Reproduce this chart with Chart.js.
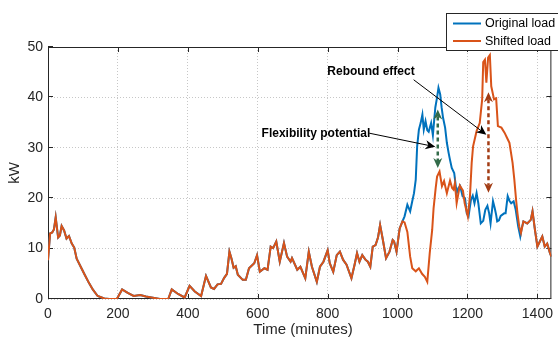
<!DOCTYPE html>
<html>
<head>
<meta charset="utf-8">
<script src="https://cdn.jsdelivr.net/npm/chart.js@4.4.1/dist/chart.umd.min.js"></script>
<style>
  html, body { margin: 0; padding: 0; background: #fff; overflow: hidden; }
  #wrap { position: relative; width: 560px; height: 341px; }
</style>
</head>
<body>
<div id="wrap"><canvas id="chart"></canvas></div>
<script>
// shifted load, whole day (minutes -> kW)
const minutes = [0, 6, 12, 17, 22, 29, 34, 39, 46, 53, 60, 68, 75, 82, 95, 105, 117, 128, 142, 161, 175, 197,
  212, 228, 245, 264, 280, 296, 320, 344, 354, 372, 391, 405, 420, 438, 452, 466, 475, 485, 495, 504, 512,
  519, 525, 531, 537, 543, 557, 566, 575, 590, 598, 606, 619, 628, 637, 644, 653, 663, 675, 684, 694, 698,
  713, 722, 736, 746, 755, 769, 778, 788, 800, 806, 816, 826, 835, 844, 854, 868, 877, 884, 891, 899, 908,
  915, 922, 929, 937, 944, 950, 958, 967, 977, 986, 990, 997, 1006, 1014, 1020, 1028, 1036, 1042, 1052,
  1061, 1070, 1078, 1085, 1092, 1099, 1103, 1109, 1113, 1120, 1127, 1133, 1141, 1150, 1156, 1160, 1164,
  1169, 1178, 1187, 1192, 1201, 1207, 1212, 1216, 1226, 1235, 1242, 1245, 1250, 1254, 1259, 1264, 1268,
  1276, 1282, 1287, 1297, 1306, 1313, 1320, 1329, 1334, 1339, 1343, 1348, 1353, 1360, 1371, 1381, 1386,
  1393, 1400, 1407, 1414, 1421, 1428, 1436, 1440];
const shiftedLoad = [7.7, 13, 13.2, 13.8, 16.2, 12.2, 12.6, 14.5, 13.6, 12, 12.5, 11, 10.2, 8, 6.2, 4.8, 3.2,
  1.9, 0.6, 0.1, 0, 0, 1.9, 1.2, 0.6, 0.8, 0.5, 0.3, 0, 0, 1.9, 1.0, 0.3, 2.6, 1.5, 0.6, 4.6, 2.3, 2.0, 2.9,
  3.0, 4.2, 5.0, 9.4, 8.0, 6.2, 6.5, 4.8, 3.8, 3.8, 6.1, 7.1, 8.7, 5.4, 6.1, 5.8, 10.4, 10.1, 11.4, 7.4,
  11.1, 8.4, 7.4, 8.1, 5.8, 6.4, 4.1, 9.4, 6.4, 3.4, 6.4, 7.4, 9.7, 7.1, 5.4, 8.7, 9.4, 7.8, 6.8, 4.1, 6.8,
  9.1, 7.4, 8.7, 7.8, 7.4, 6.4, 10.4, 10.7, 12.2, 14.7, 11.7, 8.1, 9.4, 11.7, 11.4, 9.4, 14, 15.4, 15.2,
  13.3, 8.4, 6.1, 5.5, 6.1, 5.0, 4.4, 3.4, 9.1, 13.7, 18, 22, 24.3, 25.3, 22.4, 23.4, 21, 23.5, 22, 21.7,
  23, 19, 22.5, 21.5, 19, 16.4, 20.3, 27, 30.3, 33.3, 34.9, 39.6, 47.0, 47.5, 42.9, 47.9, 48.4, 42.2, 39.6,
  39.8, 34.3, 34.0, 33, 32, 31, 27, 23.7, 19.7, 17, 14.4, 13.1, 15.4, 15, 15.7, 17.4, 13.7, 10.4, 11.4,
  12.4, 10.4, 11, 9.1, 8.4];

// original load where it differs from the shifted one
const windowMinutes = [1014, 1020, 1028, 1036, 1042, 1047, 1052, 1056, 1061, 1066, 1071, 1075, 1080, 1085,
  1089, 1096, 1101, 1108, 1113, 1117, 1122, 1126, 1130, 1136, 1141, 1146, 1150, 1155, 1162, 1169, 1174,
  1179, 1186, 1193, 1198, 1203, 1210, 1215, 1220, 1226, 1231, 1238, 1245, 1251, 1257, 1262, 1266, 1273,
  1278, 1282, 1285, 1290, 1295, 1299, 1305, 1309, 1315, 1320, 1325, 1332, 1338, 1345, 1351, 1355];
const originalWindowLoad = [15.4, 16.4, 18.7, 17.4, 19.4, 21, 23.7, 30.3, 33.6, 34.9, 36.6, 33.6, 35.3,
  33.5, 33.2, 34.9, 32.5, 38, 40, 41.9, 40.6, 38, 36, 34, 31, 29, 27.6, 26, 25, 21, 22, 22.4, 20.4, 20, 17,
  16.4, 19.7, 20.5, 19, 21, 19, 15, 15.5, 17.7, 18.5, 17, 15, 19.4, 18, 16.7, 15.4, 15.6, 16.5, 16.7, 17,
  17, 20.4, 19.5, 19, 19.4, 17.7, 14.4, 12.4, 14];

const xTicks = [0, 200, 400, 600, 800, 1000, 1200, 1400];
const yTicks = [0, 10, 20, 30, 40, 50];
const seriesNames = ['Original load', 'Shifted load'];
const seriesColors = ['#0072BD', '#D95319'];

// annotations, in data units
const notes = [
  { text: 'Flexibility potential', at: [611, 32.8], from: [919, 32.9], to: [1108, 30.2] },
  { text: 'Rebound effect', at: [799, 45.1], from: [1046, 43.5], to: [1254, 32.6] }
];
const gaps = [
  { t: 1115, lo: 26, hi: 37.6, color: '#336b49' },
  { t: 1260, lo: 21.1, hi: 41, color: '#a23c14' }
];

const FONT = '"Liberation Sans", Arial, Helvetica, sans-serif';
const AXIS = '#262626';

const shiftedPts = minutes.map((t, i) => ({ x: t, y: shiftedLoad[i] }));
const winStart = windowMinutes[0], winEnd = windowMinutes[windowMinutes.length - 1];
const originalPts = shiftedPts.filter(p => p.x < winStart)
  .concat(windowMinutes.map((t, i) => ({ x: t, y: originalWindowLoad[i] })))
  .concat(shiftedPts.filter(p => p.x > winEnd));

function arrowHead(ctx, x, y, ang, len, half) {
  ctx.save();
  ctx.translate(x, y);
  ctx.rotate(ang);
  ctx.beginPath();
  ctx.moveTo(0, 0);
  ctx.lineTo(-len, -half);
  ctx.lineTo(-len * 0.7, 0);
  ctx.lineTo(-len, half);
  ctx.closePath();
  ctx.fill();
  ctx.restore();
}

const matlabLook = {
  id: 'matlabLook',
  beforeDatasetsDraw(chart) {
    const { ctx, chartArea: a, scales: { x, y } } = chart;
    ctx.save();
    ctx.strokeStyle = AXIS;
    ctx.lineWidth = 1;
    ctx.beginPath();
    ctx.moveTo(a.left + 0.5, a.top + 0.5);
    ctx.lineTo(a.right - 0.5, a.top + 0.5);
    ctx.lineTo(a.right - 0.5, a.bottom - 0.5);
    ctx.lineTo(a.left + 0.5, a.bottom - 0.5);
    ctx.closePath();
    ctx.stroke();
    const tl = 5;
    ctx.beginPath();
    xTicks.forEach(v => {
      const px = Math.round(x.getPixelForValue(v)) + 0.5;
      ctx.moveTo(px, a.bottom); ctx.lineTo(px, a.bottom - tl);
      ctx.moveTo(px, a.top); ctx.lineTo(px, a.top + tl);
    });
    yTicks.forEach(v => {
      const py = Math.round(y.getPixelForValue(v)) - 0.5;
      ctx.moveTo(a.left, py); ctx.lineTo(a.left + tl, py);
      ctx.moveTo(a.right, py); ctx.lineTo(a.right - tl, py);
    });
    ctx.stroke();

    ctx.fillStyle = AXIS;
    ctx.font = '15px ' + FONT;
    ctx.textAlign = 'center';
    ctx.textBaseline = 'middle';
    ctx.fillText('Time (minutes)', (a.left + 558) / 2, 330);
    ctx.translate(15, (a.top + a.bottom) / 2);
    ctx.rotate(-Math.PI / 2);
    ctx.fillText('kW', 0, 0);
    ctx.restore();
  },
  afterDatasetsDraw(chart) {
    const { ctx, scales: { x, y } } = chart;
    ctx.save();
    // double-headed dashed arrows
    gaps.forEach(g => {
      const px = x.getPixelForValue(g.t);
      const top = y.getPixelForValue(g.hi), bot = y.getPixelForValue(g.lo);
      ctx.strokeStyle = g.color;
      ctx.fillStyle = g.color;
      ctx.lineWidth = 2.5;
      ctx.setLineDash([4, 3]);
      ctx.beginPath();
      ctx.moveTo(px, top + 7);
      ctx.lineTo(px, bot - 7);
      ctx.stroke();
      ctx.setLineDash([]);
      arrowHead(ctx, px, top, -Math.PI / 2, 10, 4.5);
      arrowHead(ctx, px, bot, Math.PI / 2, 10, 4.5);
    });
    // text arrows
    ctx.strokeStyle = '#000';
    ctx.fillStyle = '#000';
    ctx.lineWidth = 1;
    ctx.font = 'bold 12px ' + FONT;
    ctx.textAlign = 'left';
    ctx.textBaseline = 'middle';
    notes.forEach(n => {
      const x0 = x.getPixelForValue(n.from[0]), y0 = y.getPixelForValue(n.from[1]);
      const x1 = x.getPixelForValue(n.to[0]), y1 = y.getPixelForValue(n.to[1]);
      const ang = Math.atan2(y1 - y0, x1 - x0);
      ctx.beginPath();
      ctx.moveTo(x0, y0);
      ctx.lineTo(x1 - 6 * Math.cos(ang), y1 - 6 * Math.sin(ang));
      ctx.stroke();
      arrowHead(ctx, x1, y1, ang, 10, 4.5);
      ctx.fillText(n.text, x.getPixelForValue(n.at[0]), y.getPixelForValue(n.at[1]));
    });

    // legend box
    const lx = 446.5, ly = 13.5;
    ctx.fillStyle = '#fff';
    ctx.fillRect(lx, ly, 130, 37);
    ctx.strokeStyle = AXIS;
    ctx.strokeRect(lx, ly, 130, 37);
    ctx.font = '12.5px ' + FONT;
    const order = [1, 0];
    order.forEach((di, row) => {
      const ds = chart.data.datasets[di];
      const yy = ly + 10 + row * 17.5;
      ctx.strokeStyle = ds.borderColor;
      ctx.lineWidth = 2;
      ctx.beginPath();
      ctx.moveTo(453, yy); ctx.lineTo(481, yy);
      ctx.stroke();
      ctx.fillStyle = '#000';
      ctx.fillText(ds.label, 485, yy + 0.5);
    });
    ctx.restore();
  }
};

new Chart(document.getElementById('chart'), {
  type: 'line',
  data: {
    datasets: [
      { label: seriesNames[1], data: shiftedPts, borderColor: seriesColors[1], borderWidth: 2, pointRadius: 0, tension: 0 },
      { label: seriesNames[0], data: originalPts, borderColor: seriesColors[0], borderWidth: 2, pointRadius: 0, tension: 0 }
    ]
  },
  options: {
    responsive: true,
    maintainAspectRatio: false,
    animation: false,
    layout: { padding: { top: 47, right: 1, left: 0, bottom: 0 } },
    plugins: { legend: { display: false }, tooltip: { enabled: false } },
    scales: {
      x: {
        type: 'linear', min: 0, max: 1440,
        afterBuildTicks: s => { s.ticks = xTicks.map(v => ({ value: v })); },
        afterFit: s => { s.height = 42; },
        grid: { color: 'rgba(0,0,0,0.22)', drawTicks: false },
        border: { display: false, dash: [1, 2] },
        ticks: { color: AXIS, font: { family: FONT, size: 14 }, padding: 7, maxRotation: 0, callback: v => String(v) }
      },
      y: {
        min: 0, max: 50,
        afterBuildTicks: s => { s.ticks = yTicks.map(v => ({ value: v })); },
        afterFit: s => { s.width = 48; },
        grid: { color: 'rgba(0,0,0,0.22)', drawTicks: false },
        border: { display: false, dash: [1, 2] },
        ticks: { color: AXIS, font: { family: FONT, size: 14 }, padding: 5, callback: v => String(v) }
      }
    }
  },
  plugins: [matlabLook]
});
</script>
</body>
</html>
